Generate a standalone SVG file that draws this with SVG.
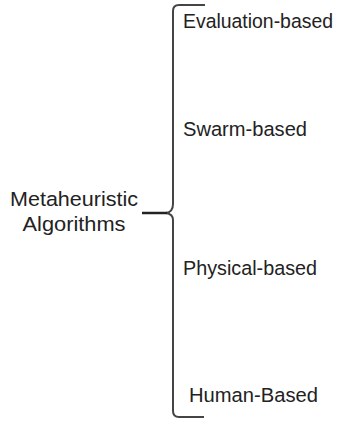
<svg xmlns="http://www.w3.org/2000/svg" width="344" height="423" viewBox="0 0 344 423">
<style>
text{font-family:"Liberation Sans",Arial,sans-serif;font-size:20.5px;fill:#222}
.br{fill:none;stroke:#444;stroke-width:2}
.stem{fill:none;stroke:#222;stroke-width:2.5}
</style>
<rect width="344" height="423" fill="#fff"/>
<g id="connectors">
<path class="br" d="M205,5 L179,5 Q173,5 173,11 L173,204 Q173,212 166,213 Q173,214 173,220 L173,411 Q173,417 179,417 L204,417"/>
<path class="stem" d="M142,213 L167,213"/>
</g>
<g id="root"><text x="74" y="206" text-anchor="middle" textLength="128" lengthAdjust="spacingAndGlyphs">Metaheuristic</text>
<text x="74" y="231" text-anchor="middle" textLength="103" lengthAdjust="spacingAndGlyphs">Algorithms</text></g>
<g id="n1"><text x="183" y="28" textLength="150" lengthAdjust="spacingAndGlyphs">Evaluation-based</text></g>
<g id="n2"><text x="183" y="136" textLength="124" lengthAdjust="spacingAndGlyphs">Swarm-based</text></g>
<g id="n3"><text x="183" y="275" textLength="134" lengthAdjust="spacingAndGlyphs">Physical-based</text></g>
<g id="n4"><text x="189" y="402" textLength="129" lengthAdjust="spacingAndGlyphs">Human-Based</text></g>
</svg>
